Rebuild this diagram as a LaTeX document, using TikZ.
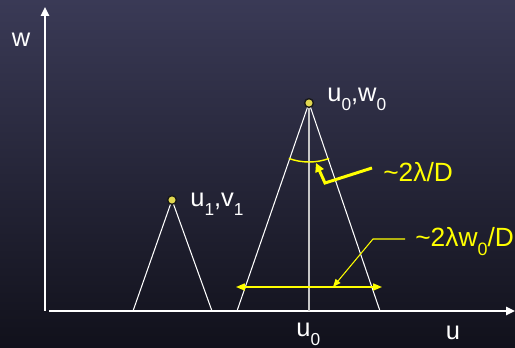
\documentclass[tikz,border=0pt]{standalone}
\usepackage{fontspec}
\setmainfont{Liberation Sans}
\usetikzlibrary{arrows.meta,positioning,calc}
\definecolor{bgtop}{RGB}{58,58,86}
\definecolor{bgbot}{RGB}{17,17,27}
\definecolor{hlyel}{RGB}{255,255,0}
\definecolor{dotyel}{RGB}{225,215,80}
\newcommand{\sub}[1]{\raisebox{-0.6ex}{\scalebox{0.68}{#1}}}
\tikzset{
  >=Stealth,
  axis/.style={white, line width=1.3pt, -{Triangle[length=5pt,width=4.5pt]}},
  cone/.style={white, line width=0.6pt},
  mid/.style={black!22, line width=0.9pt},
  src/.style={circle, draw=black!90, fill=dotyel, inner sep=0pt, minimum size=5pt, line width=0.8pt},
  lbl/.style={white, font=\fontsize{14.5}{16}\selectfont, inner sep=0pt},
  ylbl/.style={hlyel, font=\fontsize{15}{17}\selectfont, inner sep=0pt},
  elbow/.style={hlyel, line width=1.7pt, line join=miter, -{Triangle[length=5pt,width=5pt]}},
  dimarr/.style={hlyel, line width=0.8pt, {Triangle[length=5pt,width=4pt]}-{Triangle[length=5pt,width=4pt]}},
  leader/.style={hlyel, line width=0.6pt, -{Triangle[length=4.5pt,width=3.5pt]}}
}

\begin{document}
\begin{tikzpicture}[x=0.02cm, y=-0.02cm]

    % === Background ===
    \shade[top color=bgtop, bottom color=bgbot] (0,0) rectangle (515,348);
    \useasboundingbox (0,0) rectangle (515,348);

    % === Axes ===
    \coordinate (ybot) at (45,311);
    \coordinate (ytop) at (45,7);
    \coordinate (xbeg) at (49,311);
    \coordinate (xend) at (515,311);
    \draw[axis] (ybot) -- (ytop);
    \draw[axis] (xbeg) -- (xend);
    \node[lbl, anchor=base] (wlab) at (21,47) {w};
    \node[lbl, anchor=base] (ulab) at (453,340) {u};
    \node[lbl, anchor=base west] (u0lab) at (296,337) {u\sub{0}};

    % === Small cone ===
    \coordinate (apex1) at (172,200);
    \draw[cone] (133,311) -- (apex1) -- (212,311);
    \node[src] (dot1) at (apex1) {};
    \node[lbl, anchor=base west] (src1lab) at (190,207) {u\sub{1},v\sub{1}};

    % === Large cone ===
    \coordinate (apex0) at (309,103);
    \coordinate (foot0) at (309,311);
    \draw[mid] (apex0) -- (foot0);
    \draw[cone] (237,311) -- (apex0) -- (380,311);
    \node[src] (dot0) at (apex0) {};
    \node[lbl, anchor=base west] (src0lab) at (327,102) {u\sub{0},w\sub{0}};

    % Beam angle
    \draw[hlyel, line width=0.8pt] ($(apex0)+(70:59)$) arc[start angle=70, end angle=110, radius=59];
    \coordinate (lamtail) at (372,168);
    \coordinate (lamcorner) at (325,183);
    \coordinate (lamtip) at (316,163);
    \draw[elbow] (lamtail) -- (lamcorner) -- (lamtip);
    \node[ylbl, anchor=base west] (anglab) at (383,182) {\textasciitilde 2λ/D};

    % Beam width at the base
    \coordinate (wl) at (236,287);
    \coordinate (wr) at (382,287);
    \draw[dimarr] (wl) -- (wr);
    \coordinate (ldtail) at (405,239);
    \coordinate (ldknee) at (373,239);
    \coordinate (ldtip) at (333,287);
    \draw[leader] (ldtail) -- (ldknee) -- (ldtip);
    \node[ylbl, anchor=base west] (widlab) at (415,247) {\textasciitilde 2λw\sub{0}/D};

\end{tikzpicture}
\end{document}
